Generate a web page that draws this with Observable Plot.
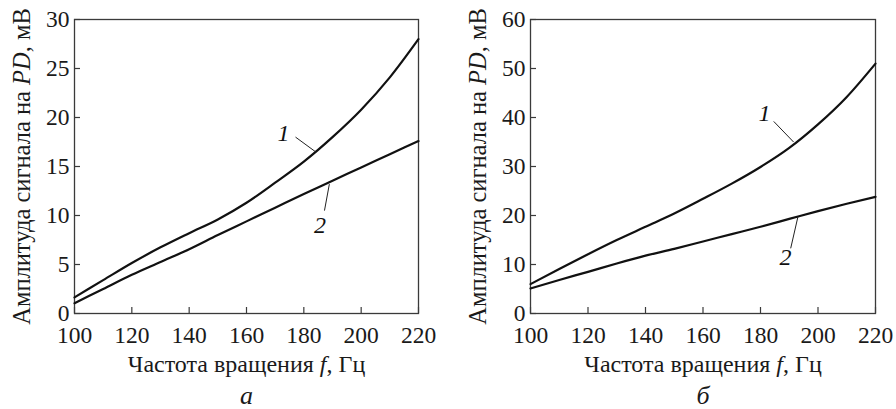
<!DOCTYPE html>
<html>
<head>
<meta charset="utf-8">
<script src="https://cdn.jsdelivr.net/npm/d3@7"></script>
<script src="https://cdn.jsdelivr.net/npm/@observablehq/plot@0.6"></script>
<style>
  body { margin: 0; background: #fff; }
  #wrap { display: flex; width: 896px; height: 409px; }
  #wrap svg { display: block; }
  #wrap svg, #wrap svg text, #wrap svg tspan { font-family: "Liberation Serif", "DejaVu Serif", serif !important; }
</style>
</head>
<body>
<div id="wrap"></div>
<script>
// ---- data ----
const freq = [100, 110, 120, 130, 140, 150, 160, 170, 180, 190, 200, 210, 220];
const aCurve1 = [1.65, 3.4, 5.15, 6.75, 8.2, 9.6, 11.3, 13.35, 15.5, 18.0, 20.8, 24.1, 28.0];
const aCurve2 = [1.05, 2.5, 3.95, 5.25, 6.55, 8.0, 9.4, 10.8, 12.2, 13.55, 14.9, 16.25, 17.6];
const bCurve1 = [6.0, 9.1, 12.1, 15.0, 17.7, 20.4, 23.4, 26.5, 29.9, 33.8, 38.6, 44.2, 51.0];
const bCurve2 = [5.1, 6.85, 8.5, 10.2, 11.8, 13.2, 14.7, 16.2, 17.7, 19.3, 20.9, 22.4, 23.8];
const xTicks = [100, 120, 140, 160, 180, 200, 220];
const aYTicks = [0, 5, 10, 15, 20, 25, 30];
const bYTicks = [0, 10, 20, 30, 40, 50, 60];
const xTitle = "Частота вращения f, Гц";
const yTitle = "Амплитуда сигнала на PD, мВ";
const captions = ["а", "б"];
// curve label positions (data coordinates) and leader lines
const aLabels = [
  {text: "1", x: 172.9, y: 18.4, x1: 177.1, y1: 18.0, x2: 184.1, y2: 16.5},
  {text: "2", x: 185.6, y: 9.0, x1: 187.2, y1: 10.5, x2: 188.9, y2: 13.2}
];
const bLabels = [
  {text: "1", x: 181.4, y: 40.8, x1: 184.6, y1: 39.2, x2: 191.5, y2: 35.0},
  {text: "2", x: 188.7, y: 11.5, x1: 190.5, y1: 13.3, x2: 193.0, y2: 19.7}
];

const FONT = "Liberation Serif, DejaVu Serif, serif";

function panel({c1, c2, yTicks, yMax, labels, caption, mLeft, mRight}) {
  const W = 448, H = 409, mTop = 19, mBottom = 96;
  const frameW = W - mLeft - mRight, frameH = H - mTop - mBottom;
  const rows1 = freq.map((f, i) => ({f, v: c1[i]}));
  const rows2 = freq.map((f, i) => ({f, v: c2[i]}));
  const svg = Plot.plot({
    width: W, height: H,
    marginLeft: mLeft, marginRight: mRight, marginTop: mTop, marginBottom: mBottom,
    style: "background: #fff; color: #1a1a1a;",
    x: {domain: [100, 220]},
    y: {domain: [0, yMax]},
    marks: [
      Plot.frame({stroke: "#3a3a3a", strokeWidth: 1.3}),
      Plot.tickX(xTicks, {x: d => d, insetTop: frameH - 6, stroke: "#3a3a3a", strokeWidth: 1.2}),
      Plot.tickY(yTicks, {y: d => d, insetRight: frameW - 6, stroke: "#3a3a3a", strokeWidth: 1.2}),
      Plot.axisX(xTicks, {tickSize: 0, tickPadding: 13, fontSize: 23.5, tickFormat: d => String(d), label: null}),
      Plot.axisY(yTicks, {tickSize: 0, tickPadding: 5, fontSize: 23.5, tickFormat: d => String(d), label: null}),
      Plot.line(rows1, {x: "f", y: "v", curve: "monotone-x", stroke: "#111", strokeWidth: 2.2}),
      Plot.line(rows2, {x: "f", y: "v", curve: "monotone-x", stroke: "#111", strokeWidth: 2.2}),
      Plot.link(labels, {x1: "x1", y1: "y1", x2: "x2", y2: "y2", stroke: "#222", strokeWidth: 1}),
      Plot.text(labels, {x: "x", y: "y", text: "text", fontStyle: "italic", fontSize: 24, fill: "#111"}),
      Plot.text([xTitle], {frameAnchor: "bottom", lineAnchor: "middle", dy: 51, fontSize: 24, fill: "#1a1a1a", className: "xtitle"}),
      Plot.text([yTitle], {frameAnchor: "left", lineAnchor: "middle", textAnchor: "middle", dx: -52, rotate: -90, fontSize: 24.5, fill: "#1a1a1a", className: "ytitle"}),
      Plot.text([caption], {frameAnchor: "bottom", lineAnchor: "middle", dy: 82, fontSize: 26, fontStyle: "italic", fill: "#1a1a1a"})
    ]
  });
  svg.setAttribute("font-family", FONT);
  const fix = (sel, parts) => {
    svg.querySelectorAll(sel + " text").forEach(t => {
      t.textContent = "";
      for (const [s, it] of parts) {
        const ts = document.createElementNS("http://www.w3.org/2000/svg", "tspan");
        ts.textContent = s;
        if (it) ts.setAttribute("font-style", "italic");
        t.appendChild(ts);
      }
    });
  };
  fix(".xtitle", [["Частота вращения ", false], ["f", true], [", Гц", false]]);
  fix(".ytitle", [["Амплитуда сигнала на ", false], ["PD", true], [", мВ", false]]);
  return svg;
}

const wrap = document.getElementById("wrap");
wrap.appendChild(panel({c1: aCurve1, c2: aCurve2, yTicks: aYTicks, yMax: 30, labels: aLabels, caption: captions[0], mLeft: 74, mRight: 30}));
wrap.appendChild(panel({c1: bCurve1, c2: bCurve2, yTicks: bYTicks, yMax: 60, labels: bLabels, caption: captions[1], mLeft: 82, mRight: 21}));
</script>
</body>
</html>
